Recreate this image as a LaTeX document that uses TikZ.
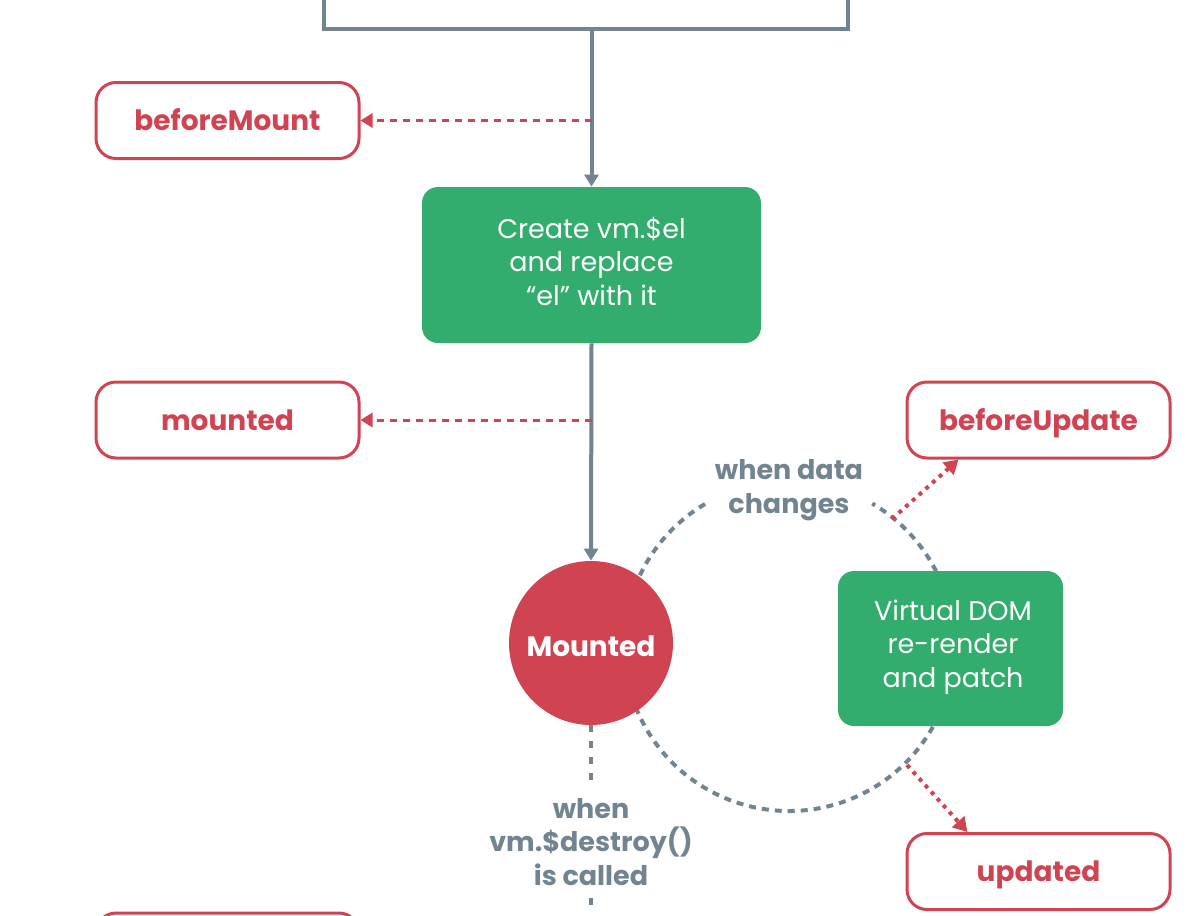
\documentclass[tikz,border=0pt]{standalone}
\usepackage{fontspec}
\setmainfont{Poppins}
\usetikzlibrary{arrows.meta}
\definecolor{vred}{HTML}{D04451}
\definecolor{vgreen}{HTML}{33AD6E}
\definecolor{vgray}{HTML}{71848F}
\begin{document}
\begin{tikzpicture}[x=0.5pt,y=-0.5pt,
  hook/.style={draw=vred, line width=1.5pt, rounded corners=10pt, fill=white,
    minimum width=131.5pt, minimum height=38pt, inner sep=0pt, text=vred,
    text height=10.3pt, text depth=0pt,
    font=\fontsize{14}{16}\selectfont\bfseries},
  proc/.style={fill=vgreen, rounded corners=8pt, inner sep=0pt},
  proctext/.style={text=white, align=center, inner sep=0pt,
    font=\fontsize{13.5}{16.75}\selectfont},
  note/.style={text=vgray, align=center, font=\fontsize{13.5}{16.75}\selectfont\bfseries},
  flow/.style={draw=vgray, line width=2pt, -{Triangle[width=7pt,length=6pt]}},
  hookarrow/.style={draw=vred, line width=1.5pt, dash pattern=on 3.5pt off 3pt,
    -{Triangle[width=7pt,length=6pt]}},
  updarrow/.style={draw=vred, line width=2pt, dash pattern=on 2pt off 2.5pt,
    -{Triangle[width=8pt,length=7pt]}},
  loop/.style={draw=vgray, line width=2pt, dash pattern=on 3.5pt off 3pt},
  vdash/.style={draw=vgray, line width=2pt, dash pattern=on 3.5pt off 4.5pt},
]
\useasboundingbox (0,0) rectangle (1200,916);

% top (partially visible) box
\node[draw=vgray, line width=2pt, minimum width=262pt, minimum height=100pt, inner sep=0pt] (init) at (586,-71) {};

% hooks
\node[hook] (bm) at (227.5,120.5) {beforeMount};
\node[hook] (md) at (227.5,420) {mounted};
\node[hook] (bu) at (1038.5,420) {beforeUpdate};
\node[hook] (ud) at (1038.5,871.5) {updated};
\node[hook] (bd) at (227.5,951) {};

% update loop
\coordinate (loopc) at (789,646);
\draw[loop] (loopc) ++(120.6:82.5pt) arc[start angle=120.6, end angle=419.7, radius=82.5pt];
\node[note] (datachg) at (789,490) {when data\\changes};

% processes
\node[proc, minimum width=169.5pt, minimum height=78pt] (create) at (591.5,265) {};
\node[proctext] (createtxt) at (591.5,261) {Create vm.\$el\\and replace\\“el” with it};
\node[proc, minimum width=112.5pt, minimum height=77.5pt] (vdom) at (950.5,648.5) {};
\node[proctext] (vdomtxt) at (953,647) {Virtual DOM\\re-render\\and patch};

\node[circle, fill=vred, minimum size=82pt, inner sep=0pt, text=white,
  text height=13.8pt, text depth=0pt,
  font=\fontsize{14}{16}\selectfont\bfseries] (mnt) at (591,643) {Mounted};

\node[note, inner ysep=6pt] (destroy) at (591,842) {when\\vm.\$destroy()\\is called};

% connectors
\draw[flow] (create.north |- init.south) -- (create.north);
\draw[hookarrow] (create.north |- bm.east) -- (bm.east);
\draw[flow] (create.south) -- (mnt.north);
\draw[hookarrow] (create.south |- md.east) -- (md.east);

\coordinate (bustart) at (892,519);
\draw[updarrow] (bustart) -- ([xshift=26.5pt]bu.south west);
\coordinate (udstart) at (907,765);
\draw[updarrow] (udstart) -- ([xshift=31pt]ud.north west);

\draw[vdash] (mnt.south) -- (destroy.north);
\draw[vdash] (destroy.south) -- (destroy.south |- bd.north);
\end{tikzpicture}
\end{document}
